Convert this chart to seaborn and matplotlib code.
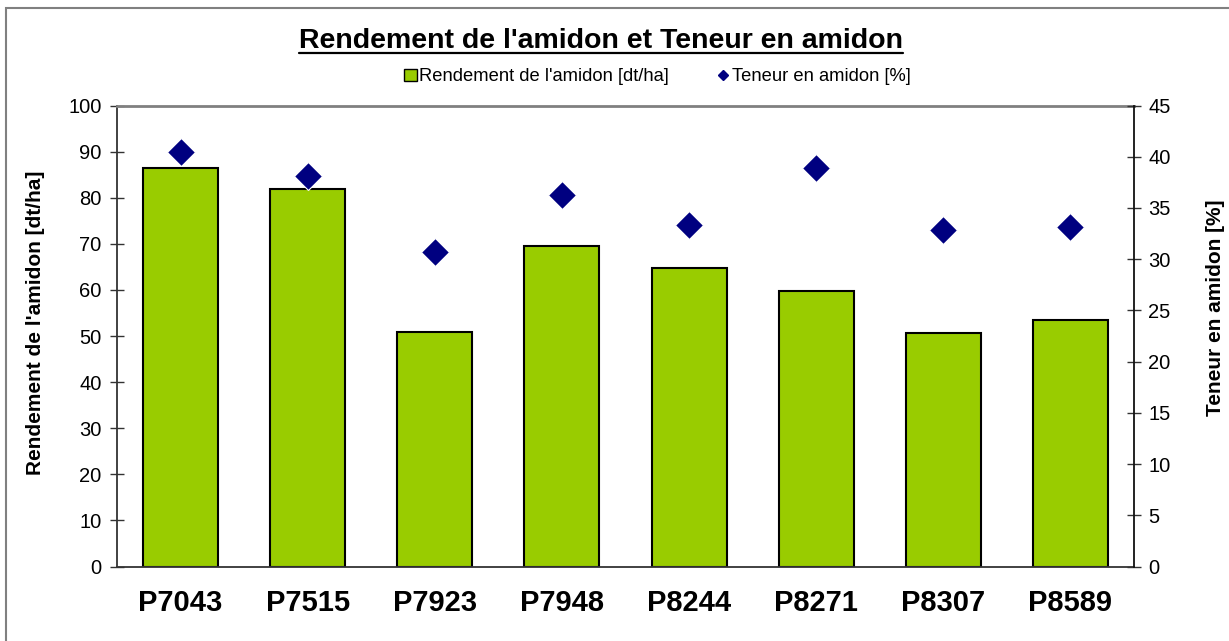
import numpy as np
import matplotlib
matplotlib.use("Agg")
import matplotlib.pyplot as plt
from matplotlib.patches import Patch, Rectangle
from matplotlib.lines import Line2D
import seaborn as sns

# ---- data ----
varieties = ["P7043", "P7515", "P7923", "P7948", "P8244", "P8271", "P8307", "P8589"]
rendement = [86.5, 81.8, 50.8, 69.5, 64.8, 59.8, 50.7, 53.4]   # dt/ha
teneur = [40.5, 38.1, 30.7, 36.3, 33.3, 38.9, 32.8, 33.1]      # %
left_ticks = list(range(0, 101, 10))
right_ticks = list(range(0, 46, 5))

title = "Rendement de l'amidon et Teneur en amidon"
label_bar = "Rendement de l'amidon [dt/ha]"
label_pt = "Teneur en amidon [%]"

sns.set_style("white")
plt.rcParams['font.family'] = ['Liberation Sans', 'DejaVu Sans']
plt.rcParams['text.color'] = 'black'
plt.rcParams['axes.labelcolor'] = 'black'
plt.rcParams['xtick.color'] = 'black'
plt.rcParams['ytick.color'] = 'black'

GREEN = "#99CC00"
NAVY = "#000080"

fig = plt.figure(figsize=(12.29, 6.41), dpi=100)
ax = fig.add_axes([0.0952, 0.1162, 0.8275, 0.7192])

sns.barplot(x=varieties, y=rendement, color=GREEN, saturation=1, width=0.59,
            edgecolor="black", linewidth=1.5, ax=ax)

ax2 = ax.twinx()
sns.pointplot(x=varieties, y=teneur, linestyle="none", markers="D", color=NAVY,
              markersize=14, markeredgecolor="white", markeredgewidth=0.8,
              errorbar=None, ax=ax2)

# axes limits
ax.set_ylim(0, 100)
ax2.set_ylim(0, 45)
ax.set_xlim(-0.5, len(varieties) - 0.5)

# x ticks: major at boundaries (no labels), minor at centers (labels)
ax.set_xticks(np.arange(-0.5, len(varieties), 1.0))
ax.set_xticklabels([])
ax.set_xticks(np.arange(len(varieties)), minor=True)
ax.set_xticklabels(varieties, minor=True, fontsize=21, fontweight="bold")
ax.tick_params(axis="x", which="major", direction="inout", length=13, width=1, color="#333333")
ax.tick_params(axis="x", which="minor", length=0, pad=16)
ax.set_xlabel("")

ax.set_yticks(left_ticks)
ax.set_yticklabels([str(t) for t in left_ticks])
ax.tick_params(axis="y", direction="inout", length=9.4, width=1, color="#333333",
               pad=6.5, labelsize=14.5, left=True)
ax2.set_yticks(right_ticks)
ax2.set_yticklabels([str(t) for t in right_ticks])
ax2.tick_params(axis="y", direction="inout", length=9.4, width=1, color="#333333",
                pad=5.5, labelsize=14.5, right=True)

# spines
for s in ["left", "bottom"]:
    ax.spines[s].set_color("#333333")
    ax.spines[s].set_linewidth(1.3)
ax.spines["top"].set_color("#808080")
ax.spines["top"].set_linewidth(2)
ax.spines["right"].set_visible(False)
for s in ["left", "bottom", "top"]:
    ax2.spines[s].set_visible(False)
ax2.spines["right"].set_color("#111111")
ax2.spines["right"].set_linewidth(1.3)

# axis labels
ax.set_ylabel(label_bar, fontsize=15, fontweight="bold")
ax.yaxis.set_label_coords(-0.0708, 0.528)
ax2.set_ylabel(label_pt, fontsize=15, fontweight="bold", rotation=90)
ax2.yaxis.set_label_coords(1.0709, 0.561)

# title with underline
t = fig.text(0.4894, 0.936, title, ha="center", va="center", fontsize=20.5, fontweight="bold")

# legend
handles = [Patch(facecolor=GREEN, edgecolor="black", linewidth=1),
           Line2D([], [], marker="D", color=NAVY, linestyle="none", markersize=5)]
fig.legend(handles, [label_bar, label_pt], loc="center", bbox_to_anchor=(0.535, 0.880),
           ncol=2, frameon=False, fontsize=13.2, handlelength=0.7, handleheight=0.7,
           handletextpad=0.15, columnspacing=2.6)

# outer chart frame
fig.add_artist(Rectangle((6 / 1229, -0.1), 1.2, 1 - 8 / 641 + 0.1, transform=fig.transFigure,
                         fill=False, edgecolor="#808080", linewidth=1.5))

fig.canvas.draw()
bb = t.get_window_extent()
W, H = fig.bbox.width, fig.bbox.height
uy = (bb.y0 + 1) / H
fig.add_artist(Line2D([bb.x0 / W, bb.x1 / W], [uy, uy], transform=fig.transFigure,
                      color="black", linewidth=1.6))

fig.savefig("out.png", dpi=100)
